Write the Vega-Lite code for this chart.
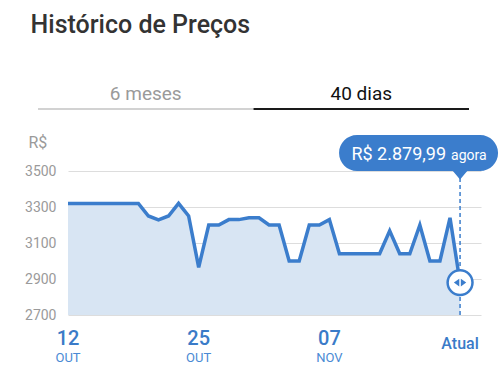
{
  "$schema": "https://vega.github.io/schema/vega-lite/v6.json",
  "padding": {"left": 24, "top": 13, "right": 2, "bottom": 4},
  "background": "white",
  "title": {"text": "Histórico de Preços", "anchor": "start", "fontSize": 25, "fontWeight": 500, "color": "#333333", "font": "Roboto", "dx": 6, "offset": 46},
  "datasets": {
    "tabs": [{"tab": "6 meses"}, {"tab": "40 dias"}],
    "prices": [
      {"date": "2023-10-12", "price": 3320},
      {"date": "2023-10-13", "price": 3320},
      {"date": "2023-10-14", "price": 3320},
      {"date": "2023-10-15", "price": 3320},
      {"date": "2023-10-16", "price": 3320},
      {"date": "2023-10-17", "price": 3320},
      {"date": "2023-10-18", "price": 3320},
      {"date": "2023-10-19", "price": 3320},
      {"date": "2023-10-20", "price": 3250},
      {"date": "2023-10-21", "price": 3228},
      {"date": "2023-10-22", "price": 3250},
      {"date": "2023-10-23", "price": 3320},
      {"date": "2023-10-24", "price": 3250},
      {"date": "2023-10-25", "price": 2965},
      {"date": "2023-10-26", "price": 3200},
      {"date": "2023-10-27", "price": 3200},
      {"date": "2023-10-28", "price": 3230},
      {"date": "2023-10-29", "price": 3230},
      {"date": "2023-10-30", "price": 3240},
      {"date": "2023-10-31", "price": 3240},
      {"date": "2023-11-01", "price": 3200},
      {"date": "2023-11-02", "price": 3200},
      {"date": "2023-11-03", "price": 3000},
      {"date": "2023-11-04", "price": 3000},
      {"date": "2023-11-05", "price": 3200},
      {"date": "2023-11-06", "price": 3200},
      {"date": "2023-11-07", "price": 3230},
      {"date": "2023-11-08", "price": 3040},
      {"date": "2023-11-09", "price": 3040},
      {"date": "2023-11-10", "price": 3040},
      {"date": "2023-11-11", "price": 3040},
      {"date": "2023-11-12", "price": 3040},
      {"date": "2023-11-13", "price": 3168},
      {"date": "2023-11-14", "price": 3040},
      {"date": "2023-11-15", "price": 3040},
      {"date": "2023-11-16", "price": 3200},
      {"date": "2023-11-17", "price": 3000},
      {"date": "2023-11-18", "price": 3000},
      {"date": "2023-11-19", "price": 3240},
      {"date": "2023-11-20", "price": 2880}
    ],
    "ticks": [
      {"date": "2023-10-12", "day": "12", "month": "OUT"},
      {"date": "2023-10-25", "day": "25", "month": "OUT"},
      {"date": "2023-11-07", "day": "07", "month": "NOV"}
    ],
    "current": [
      {"date": "2023-11-20", "price": 2880, "label": "R$ 2.879,99", "suffix": "agora", "tick": "Atual"}
    ]
  },
  "config": {
    "view": {"stroke": null},
    "font": "Roboto",
    "axis": {"labelFont": "Roboto", "titleFont": "Roboto"}
  },
  "spacing": 24,
  "vconcat": [
    {
      "width": 401,
      "height": 2,
      "data": {"name": "tabs"},
      "mark": {"type": "bar"},
      "encoding": {
        "x": {
          "field": "tab", "type": "nominal", "sort": null,
          "scale": {"paddingInner": 0, "paddingOuter": 0, "range": [-30, 401]},
          "axis": {
            "orient": "top", "title": null, "domain": false, "ticks": false, "labelAngle": 0,
            "labelFontSize": 19, "labelPadding": 5,
            "labelColor": {"condition": {"test": "datum.value === '40 dias'", "value": "#111111"}, "value": "#9a9a9a"}
          }
        },
        "color": {"field": "tab", "type": "nominal", "scale": {"domain": ["6 meses", "40 dias"], "range": ["#d2d2d2", "#1a1a1a"]}, "legend": null}
      }
    },
    {
      "width": 413,
      "height": 180,
      "layer": [
        {
          "data": {"name": "prices"},
          "mark": {"type": "area", "color": "#d8e5f3"},
          "encoding": {
            "x": {"field": "date", "type": "temporal", "scale": {"type": "utc", "domain": [{"year": 2023, "month": 10, "date": 12, "utc": true}, {"year": 2023, "month": 11, "date": 22, "hours": 2, "utc": true}]}, "axis": null},
            "y": {"field": "price", "type": "quantitative", "scale": {"domain": [2700, 3700], "zero": false, "nice": false},
              "axis": {"values": [2700, 2900, 3100, 3300, 3500], "format": "d", "grid": true, "gridColor": "#dddddd", "gridWidth": 1, "domain": false, "ticks": false,
                "labelColor": "#9a9a9a", "labelFontSize": 14, "labelPadding": 12,
                "title": "R$", "titleAngle": 0, "titleAlign": "left", "titleBaseline": "alphabetic", "titleX": -40, "titleY": 12,
                "titleColor": "#9a9a9a", "titleFontSize": 16, "titleFontWeight": "normal"}},
            "y2": {"datum": 2700}
          }
        },
        {
          "data": {"name": "prices"},
          "mark": {"type": "line", "color": "#3b7dcc", "strokeWidth": 3.5},
          "encoding": {
            "x": {"field": "date", "type": "temporal", "scale": {"type": "utc", "domain": [{"year": 2023, "month": 10, "date": 12, "utc": true}, {"year": 2023, "month": 11, "date": 22, "hours": 2, "utc": true}]}, "axis": null},
            "y": {"field": "price", "type": "quantitative", "scale": {"domain": [2700, 3700], "zero": false, "nice": false},
              "axis": {"values": [2700, 2900, 3100, 3300, 3500], "format": "d", "grid": true, "gridColor": "#dddddd", "gridWidth": 1, "domain": false, "ticks": false,
                "labelColor": "#9a9a9a", "labelFontSize": 14, "labelPadding": 12,
                "title": "R$", "titleAngle": 0, "titleAlign": "left", "titleBaseline": "alphabetic", "titleX": -40, "titleY": 12,
                "titleColor": "#9a9a9a", "titleFontSize": 16, "titleFontWeight": "normal"}}
          }
        },
        {
          "data": {"name": "current"},
          "mark": {"type": "rule", "color": "#3b7dcc", "strokeWidth": 1.5, "strokeDash": [4, 3]},
          "encoding": {
            "x": {"field": "date", "type": "temporal", "scale": {"type": "utc", "domain": [{"year": 2023, "month": 10, "date": 12, "utc": true}, {"year": 2023, "month": 11, "date": 22, "hours": 2, "utc": true}]}, "axis": null},
            "y": {"datum": 3500},
            "y2": {"datum": 2700}
          }
        },
        {
          "data": {"name": "current"},
          "mark": {"type": "point", "filled": true, "opacity": 1, "color": "#3b7dcc", "size": 25600,
            "shape": "M -1.2875,-0.225 L 0.25,-0.225 A 0.225,0.225 0 0 1 0.25,0.225 L 0.09,0.225 L 0,0.33 L -0.09,0.225 L -1.2875,0.225 A 0.225,0.225 0 0 1 -1.2875,-0.225 Z"},
          "encoding": {
            "x": {"field": "date", "type": "temporal", "scale": {"type": "utc", "domain": [{"year": 2023, "month": 10, "date": 12, "utc": true}, {"year": 2023, "month": 11, "date": 22, "hours": 2, "utc": true}]}, "axis": null},
            "y": {"datum": 3600}
          }
        },
        {
          "data": {"name": "current"},
          "mark": {"type": "text", "color": "white", "fontSize": 18, "align": "right", "baseline": "alphabetic", "dx": -14, "dy": 7},
          "encoding": {
            "x": {"field": "date", "type": "temporal", "scale": {"type": "utc", "domain": [{"year": 2023, "month": 10, "date": 12, "utc": true}, {"year": 2023, "month": 11, "date": 22, "hours": 2, "utc": true}]}, "axis": null},
            "y": {"datum": 3600},
            "text": {"field": "label"}
          }
        },
        {
          "data": {"name": "current"},
          "mark": {"type": "text", "color": "white", "fontSize": 14, "align": "left", "baseline": "alphabetic", "dx": -9, "dy": 7},
          "encoding": {
            "x": {"field": "date", "type": "temporal", "scale": {"type": "utc", "domain": [{"year": 2023, "month": 10, "date": 12, "utc": true}, {"year": 2023, "month": 11, "date": 22, "hours": 2, "utc": true}]}, "axis": null},
            "y": {"datum": 3600},
            "text": {"field": "suffix"}
          }
        },
        {
          "data": {"name": "current"},
          "mark": {"type": "point", "filled": false, "fill": "white", "fillOpacity": 1, "opacity": 1, "stroke": "#3b7dcc", "strokeWidth": 2.5, "shape": "circle", "size": 620},
          "encoding": {
            "x": {"field": "date", "type": "temporal", "scale": {"type": "utc", "domain": [{"year": 2023, "month": 10, "date": 12, "utc": true}, {"year": 2023, "month": 11, "date": 22, "hours": 2, "utc": true}]}, "axis": null},
            "y": {"field": "price", "type": "quantitative", "scale": {"domain": [2700, 3700], "zero": false, "nice": false},
              "axis": {"values": [2700, 2900, 3100, 3300, 3500], "format": "d", "grid": true, "gridColor": "#dddddd", "gridWidth": 1, "domain": false, "ticks": false,
                "labelColor": "#9a9a9a", "labelFontSize": 14, "labelPadding": 12,
                "title": "R$", "titleAngle": 0, "titleAlign": "left", "titleBaseline": "alphabetic", "titleX": -40, "titleY": 12,
                "titleColor": "#9a9a9a", "titleFontSize": 16, "titleFontWeight": "normal"}}
          }
        },
        {
          "data": {"name": "current"},
          "mark": {"type": "point", "filled": true, "opacity": 1, "color": "#3b7dcc", "size": 169,
            "shape": "M -0.95,0 L -0.12,-0.6 L -0.12,0.6 Z M 0.95,0 L 0.12,-0.6 L 0.12,0.6 Z"},
          "encoding": {
            "x": {"field": "date", "type": "temporal", "scale": {"type": "utc", "domain": [{"year": 2023, "month": 10, "date": 12, "utc": true}, {"year": 2023, "month": 11, "date": 22, "hours": 2, "utc": true}]}, "axis": null},
            "y": {"field": "price", "type": "quantitative", "scale": {"domain": [2700, 3700], "zero": false, "nice": false},
              "axis": {"values": [2700, 2900, 3100, 3300, 3500], "format": "d", "grid": true, "gridColor": "#dddddd", "gridWidth": 1, "domain": false, "ticks": false,
                "labelColor": "#9a9a9a", "labelFontSize": 14, "labelPadding": 12,
                "title": "R$", "titleAngle": 0, "titleAlign": "left", "titleBaseline": "alphabetic", "titleX": -40, "titleY": 12,
                "titleColor": "#9a9a9a", "titleFontSize": 16, "titleFontWeight": "normal"}}
          }
        },
        {
          "data": {"name": "ticks"},
          "mark": {"type": "text", "color": "#3a7bc8", "fontSize": 20, "fontWeight": 500, "align": "center", "baseline": "alphabetic", "dy": 30},
          "encoding": {
            "x": {"field": "date", "type": "temporal", "scale": {"type": "utc", "domain": [{"year": 2023, "month": 10, "date": 12, "utc": true}, {"year": 2023, "month": 11, "date": 22, "hours": 2, "utc": true}]}, "axis": null},
            "y": {"datum": 2700},
            "text": {"field": "day"}
          }
        },
        {
          "data": {"name": "ticks"},
          "mark": {"type": "text", "color": "#4a8ad4", "fontSize": 13, "fontWeight": "normal", "align": "center", "baseline": "alphabetic", "dy": 47},
          "encoding": {
            "x": {"field": "date", "type": "temporal", "scale": {"type": "utc", "domain": [{"year": 2023, "month": 10, "date": 12, "utc": true}, {"year": 2023, "month": 11, "date": 22, "hours": 2, "utc": true}]}, "axis": null},
            "y": {"datum": 2700},
            "text": {"field": "month"}
          }
        },
        {
          "data": {"name": "current"},
          "mark": {"type": "text", "color": "#3a7bc8", "fontSize": 16, "fontWeight": 500, "align": "center", "baseline": "alphabetic", "dy": 34},
          "encoding": {
            "x": {"field": "date", "type": "temporal", "scale": {"type": "utc", "domain": [{"year": 2023, "month": 10, "date": 12, "utc": true}, {"year": 2023, "month": 11, "date": 22, "hours": 2, "utc": true}]}, "axis": null},
            "y": {"datum": 2700},
            "text": {"field": "tick"}
          }
        }
      ]
    }
  ]
}
